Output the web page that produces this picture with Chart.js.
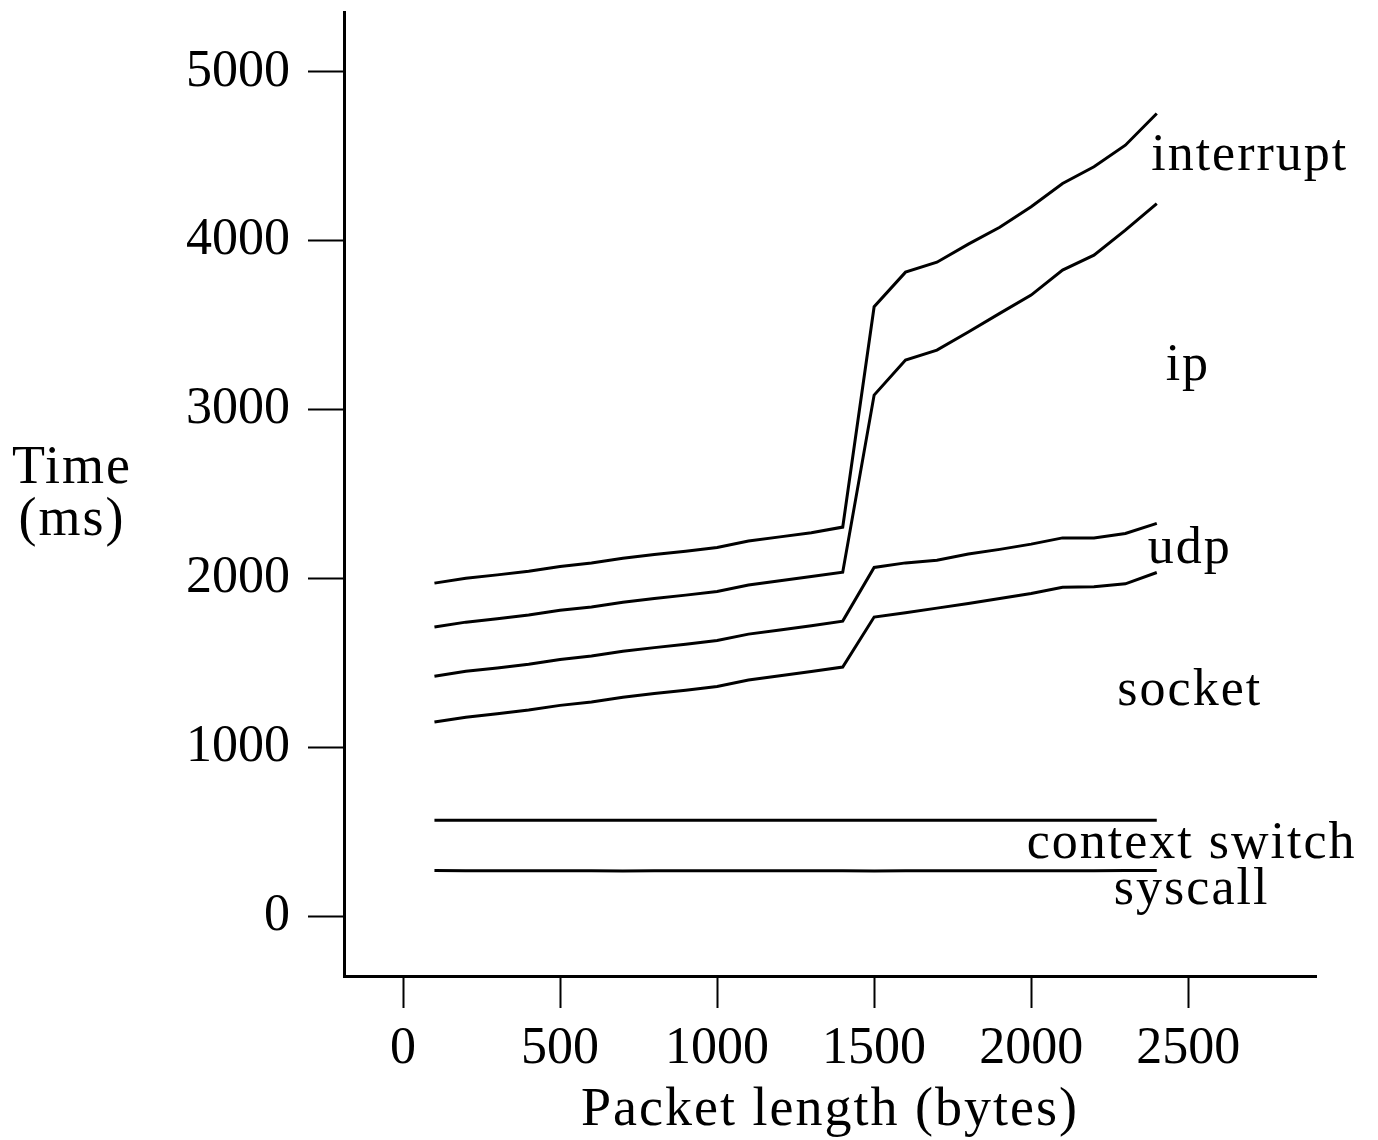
<!DOCTYPE html>
<html>
<head>
<meta charset="utf-8">
<script src="https://cdn.jsdelivr.net/npm/chart.js@4/dist/chart.umd.min.js"></script>
<style>
	html, body { margin: 0; padding: 0; background: #fff; }
	#wrap { width: 1378px; height: 1140px; position: relative; }
</style>
</head>
<body>
<div id="wrap"><canvas id="timeChart"></canvas></div>
<script>
// Packet lengths (bytes) sampled for every curve
const packetLengths = [100, 200, 300, 400, 500, 600, 700, 800, 900, 1000, 1100, 1200,
	1300, 1400, 1500, 1600, 1700, 1800, 1900, 2000, 2100, 2200, 2300, 2400];

// Cumulative time (ms) at each packet length
const syscallTime = [270, 268, 268, 269, 269, 268, 267, 268, 269, 269, 269, 268,
	268, 268, 267, 268, 268, 268, 268, 269, 269, 269, 270, 270];
const contextSwitchTime = [567, 567, 567, 567, 567, 567, 567, 567, 567, 567, 567, 567,
	567, 567, 567, 567, 567, 567, 568, 568, 568, 568, 568, 568];
const socketTime = [1149, 1178, 1198, 1220, 1248, 1268, 1296, 1318, 1338, 1360, 1398, 1423,
	1448, 1475, 1771, 1796, 1824, 1852, 1881, 1911, 1947, 1950, 1968, 2035];
const udpTime = [1421, 1450, 1470, 1492, 1520, 1540, 1568, 1590, 1610, 1632, 1670, 1695,
	1720, 1747, 2065, 2092, 2108, 2144, 2172, 2203, 2240, 2240, 2266, 2326];
const ipTime = [1712, 1741, 1761, 1783, 1811, 1831, 1859, 1881, 1901, 1923, 1961, 1986,
	2011, 2037, 3086, 3293, 3352, 3460, 3570, 3678, 3826, 3915, 4063, 4220];
const interruptTime = [1972, 2001, 2021, 2043, 2071, 2091, 2119, 2141, 2161, 2183, 2221, 2246,
	2271, 2304, 3609, 3814, 3873, 3980, 4080, 4201, 4339, 4438, 4566, 4754];

const xTicks = [0, 500, 1000, 1500, 2000, 2500];
const yTicks = [0, 1000, 2000, 3000, 4000, 5000];

const bandNames = ['interrupt', 'ip', 'udp', 'socket', 'context switch', 'syscall'];

// where each band name sits, in data units (text centre x, baseline y)
const bandLabelAt = {
	'interrupt': [2696, 4418],
	'ip': [2499, 3174],
	'udp': [2505, 2091],
	'socket': [2505, 1250],
	'context switch': [2511, 343],
	'syscall': [2511, 72],
};

const FONT = '"Liberation Serif", "DejaVu Serif", serif';

function toPoints(values) {
	return values.map((v, i) => ({ x: packetLengths[i], y: v }));
}

const series = [syscallTime, contextSwitchTime, socketTime, udpTime, ipTime, interruptTime];

const bandLabels = {
	id: 'bandLabels',
	afterDatasetsDraw(chart) {
		const { ctx, scales } = chart;
		ctx.save();
		ctx.fillStyle = '#000';
		ctx.font = '52px ' + FONT;
		ctx.letterSpacing = '2px';
		ctx.textAlign = 'center';
		ctx.textBaseline = 'alphabetic';
		bandNames.forEach((name) => {
			const [vx, vy] = bandLabelAt[name];
			ctx.fillText(name, scales.x.getPixelForValue(vx), scales.y.getPixelForValue(vy));
		});
		ctx.restore();
	},
};

// axis titles, both set horizontally
const axisTitles = {
	id: 'axisTitles',
	afterDraw(chart) {
		const { ctx } = chart;
		ctx.save();
		ctx.fillStyle = '#000';
		ctx.font = '54px ' + FONT;
		ctx.letterSpacing = '2px';
		ctx.textAlign = 'center';
		ctx.textBaseline = 'alphabetic';
		ctx.fillText('Time', 72, 483);
		ctx.fillText('(ms)', 72, 535);
		ctx.fillText('Packet length (bytes)', 830, 1125);
		ctx.restore();
	},
};

const plain = (v) => String(v);

const chart = new Chart(document.getElementById('timeChart'), {
	type: 'line',
	data: {
		datasets: series.map((values) => ({
			data: toPoints(values),
			borderColor: '#000',
			borderWidth: 3,
			pointRadius: 0,
			tension: 0,
			fill: false,
		})),
	},
	options: {
		responsive: true,
		maintainAspectRatio: false,
		animation: false,
		events: [],
		layout: { padding: { left: 0, top: 12, right: 62, bottom: 0 } },
		plugins: {
			legend: { display: false },
			tooltip: { enabled: false },
		},
		scales: {
			x: {
				type: 'linear',
				min: -188,
				max: 2907,
				afterFit(scale) {
					scale.height = 164;
					scale.paddingLeft = 0;
					scale.paddingRight = 0;
				},
				afterBuildTicks(scale) { scale.ticks = xTicks.map((v) => ({ value: v })); },
				border: { display: true, color: '#000', width: 3 },
				grid: { drawOnChartArea: false, drawTicks: true, tickLength: 32, tickWidth: 2, tickColor: '#000' },
				ticks: {
					color: '#000',
					padding: 10,
					maxRotation: 0,
					callback: plain,
					font: { family: FONT, size: 52 },
				},
			},
			y: {
				type: 'linear',
				min: -355,
				max: 5355,
				afterFit(scale) {
					scale.width = 344;
					scale.paddingTop = 0;
					scale.paddingBottom = 0;
				},
				afterBuildTicks(scale) { scale.ticks = yTicks.map((v) => ({ value: v })); },
				border: { display: true, color: '#000', width: 3 },
				grid: { drawOnChartArea: false, drawTicks: true, tickLength: 36, tickWidth: 2, tickColor: '#000' },
				ticks: {
					color: '#000',
					padding: 18,
					callback: plain,
					font: { family: FONT, size: 52 },
				},
			},
		},
	},
	plugins: [bandLabels, axisTitles],
});
</script>
</body>
</html>
